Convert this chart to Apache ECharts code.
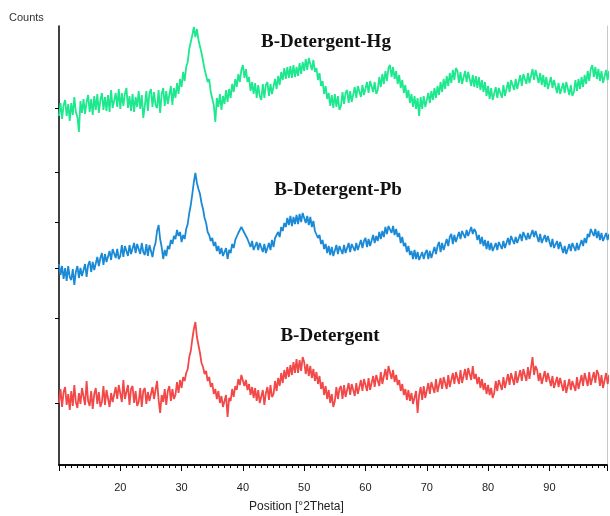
<!DOCTYPE html>
<html>
<head>
<meta charset="utf-8">
<script src="https://cdn.jsdelivr.net/npm/echarts@6/dist/echarts.min.js"></script>
<style>
  html, body { margin: 0; padding: 0; background: #fff; }
  #chart { width: 610px; height: 516px; }
</style>
</head>
<body>
<div id="chart"></div>
<script>
// XRD scan grid (°2Theta): 4 readings per degree
const scanStart = 10;
const scanStep = 0.25;

// Intensity (counts, stacked offsets) per sample, one row per degree
const hgCounts = [
  349, 362, 346, 360,  365, 349, 361, 344,  362, 350, 368, 353,  348, 333, 364, 352,  366, 351, 363, 370,
  353, 366, 350, 369,  355, 371, 352, 365,  372, 355, 368, 354,  370, 353, 375, 357,  356, 372, 358, 376,
  356, 372, 359, 371,  377, 357, 369, 354,  371, 353, 368, 358,  374, 356, 370, 347,  359, 374, 354, 372,
  376, 358, 373, 360,  357, 375, 352, 371,  377, 359, 374, 361,  362, 379, 360, 377,  367, 382, 371, 386,
  378, 393, 384, 398,  403, 416, 418, 430,  438, 428, 436, 425,  426, 412, 410, 396,  397, 383, 386, 373,
  374, 360, 343, 367,  358, 371, 355, 369,  361, 375, 363, 376,  367, 381, 373, 386,  378, 391, 383, 395,
  400, 387, 396, 383,  388, 374, 383, 371,  382, 367, 380, 369,  365, 381, 367, 380,  383, 369, 381, 371,
  373, 386, 376, 389,  380, 393, 385, 397,  386, 398, 387, 399,  387, 400, 388, 398,  389, 402, 391, 403,
  394, 406, 395, 407,  407, 395, 405, 393,  397, 385, 392, 379,  384, 371, 379, 366,  372, 359, 370, 357,
  371, 358, 369, 355,  359, 373, 361, 372,  375, 362, 374, 363,  365, 378, 367, 379,  381, 368, 380, 370,
  370, 383, 372, 384,  385, 373, 383, 371,  375, 388, 378, 391,  381, 394, 384, 397,  400, 388, 398, 386,
  394, 381, 390, 377,  385, 372, 380, 367,  375, 362, 371, 358,  369, 356, 367, 349,  368, 356, 369, 358,
  359, 372, 362, 374,  365, 377, 367, 379,  370, 383, 373, 386,  376, 389, 379, 392,  382, 395, 385, 397,
  394, 382, 393, 381,  381, 394, 383, 393,  392, 379, 390, 378,  389, 377, 388, 375,  385, 373, 383, 369,
  379, 366, 377, 365,  365, 378, 367, 377,  379, 367, 380, 369,  370, 383, 373, 385,  387, 375, 386, 376,
  377, 390, 379, 391,  393, 381, 392, 382,  383, 396, 385, 395,  394, 382, 392, 380,  390, 378, 388, 376,
  375, 388, 377, 385,  384, 372, 382, 371,  370, 382, 372, 383,  382, 370, 380, 369,  373, 385, 374, 386,
  376, 388, 378, 390,  381, 394, 384, 396,  400, 388, 398, 386,  396, 384, 394, 382,  383, 395, 385, 394
];

const pbCounts = [
  201, 190, 199, 186,  197, 184, 199, 188,  185, 196, 180, 193,  199, 187, 197, 189,  190, 201, 188, 200,
  204, 193, 203, 195,  197, 208, 199, 207,  212, 200, 211, 203,  203, 214, 205, 216,  218, 207, 216, 206,
  209, 220, 208, 219,  221, 209, 220, 211,  210, 222, 212, 221,  223, 211, 222, 213,  210, 221, 209, 220,
  219, 208, 217, 222,  234, 240, 226, 218,  206, 215, 209, 219,  216, 225, 221, 229,  226, 235, 229, 233,
  223, 230, 226, 236,  241, 252, 260, 271,  283, 292, 282, 276,  271, 262, 256, 247,  242, 233, 230, 224,
  227, 219, 223, 214,  219, 211, 217, 209,  208, 217, 206, 215,  212, 221, 217, 225,  224, 232, 230, 238,
  240, 232, 234, 226,  227, 218, 224, 215,  214, 223, 215, 222,  223, 213, 221, 212,  213, 222, 215, 225,
  218, 227, 225, 233,  228, 238, 234, 242,  238, 247, 240, 249,  239, 248, 241, 250,  241, 251, 243, 252,
  251, 242, 249, 240,  248, 238, 244, 234,  236, 227, 230, 221,  225, 216, 221, 212,  219, 210, 218, 209,
  210, 220, 211, 219,  221, 211, 220, 212,  212, 222, 213, 221,  223, 214, 222, 215,  215, 225, 217, 224,
  227, 218, 226, 219,  220, 230, 222, 229,  224, 233, 226, 234,  228, 238, 231, 239,  241, 232, 239, 230,
  236, 228, 232, 222,  228, 219, 222, 213,  219, 210, 214, 206,  215, 206, 213, 205,  204, 213, 206, 212,
  215, 206, 214, 207,  209, 218, 211, 219,  223, 213, 222, 215,  217, 226, 219, 228,  231, 221, 230, 223,
  223, 233, 226, 234,  236, 227, 235, 229,  228, 238, 231, 236,  233, 225, 230, 221,  228, 219, 225, 216,
  224, 215, 222, 214,  213, 222, 215, 223,  225, 216, 224, 217,  218, 227, 220, 229,  230, 221, 228, 222,
  222, 231, 224, 233,  234, 225, 232, 226,  225, 235, 228, 234,  233, 223, 231, 222,  221, 230, 223, 229,
  228, 218, 226, 217,  215, 224, 216, 223,  221, 212, 219, 211,  212, 221, 214, 222,  223, 214, 222, 215,
  215, 225, 219, 227,  222, 231, 228, 236,  238, 229, 236, 227,  234, 225, 232, 224,  223, 232, 225, 231
];

const detCounts = [
  62, 76, 58, 73,  78, 60, 71, 55,  74, 59, 80, 63,  57, 72, 61, 77,  75, 60, 84, 64,
  59, 74, 56, 71,  77, 61, 73, 58,  63, 79, 60, 75,  76, 58, 72, 63,  61, 78, 66, 80,
  78, 63, 85, 66,  64, 80, 60, 76,  79, 62, 74, 59,  63, 77, 58, 74,  77, 61, 73, 64,
  62, 78, 66, 75,  84, 65, 52, 70,  63, 76, 60, 74,  79, 64, 76, 66,  70, 83, 72, 85,
  77, 88, 84, 92,  96, 108, 114, 126,  136, 143, 128, 120,  112, 102, 98, 91,  94, 84, 88, 78,
  82, 71, 76, 66,  74, 62, 69, 58,  59, 70, 48, 67,  64, 76, 68, 79,  75, 86, 80, 90,
  89, 79, 85, 75,  81, 70, 78, 67,  77, 64, 75, 62,  63, 75, 60, 72,  78, 65, 80, 68,
  71, 84, 74, 87,  79, 92, 82, 95,  86, 98, 88, 100,  90, 103, 92, 106,  92, 105, 94, 108,
  103, 91, 101, 89,  99, 87, 96, 84,  93, 81, 89, 76,  83, 70, 79, 66,  75, 62, 71, 58,
  64, 78, 66, 76,  79, 66, 80, 68,  69, 82, 70, 81,  83, 69, 82, 71,  72, 85, 74, 86,
  86, 74, 87, 75,  76, 89, 78, 90,  91, 79, 93, 81,  83, 96, 85, 99,  98, 86, 95, 83,
  90, 80, 85, 74,  81, 70, 76, 65,  75, 64, 72, 61,  63, 74, 52, 70,  78, 65, 79, 67,
  69, 82, 71, 83,  84, 72, 86, 73,  74, 87, 76, 88,  88, 76, 90, 78,  79, 92, 81, 93,
  93, 81, 95, 82,  83, 96, 85, 97,  97, 85, 99, 86,  91, 81, 88, 77,  86, 75, 82, 71,
  80, 70, 77, 67,  72, 84, 74, 85,  87, 75, 88, 77,  78, 91, 80, 92,  92, 80, 94, 82,
  82, 95, 84, 96,  96, 84, 98, 86,  87, 108, 90, 99,  95, 84, 92, 81,  81, 94, 83, 92,
  91, 79, 89, 77,  76, 88, 78, 87,  86, 74, 85, 72,  73, 86, 75, 84,  86, 74, 88, 76,
  77, 90, 79, 92,  91, 79, 93, 80,  80, 93, 82, 95,  91, 79, 90, 77,  79, 92, 81, 90
];

const xTickLabels = [20, 30, 40, 50, 60, 70, 80, 90];
const yTickValues = [62, 147, 197, 243, 293, 357];
const sampleNames = ['B-Detergent-Hg', 'B-Detergent-Pb', 'B-Detergent'];

function toPairs(values) {
  return values.map((v, i) => [scanStart + i * scanStep, v]);
}

const chart = echarts.init(document.getElementById('chart'), null, { renderer: 'canvas' });

const sansFont = '"Liberation Sans", Arial, sans-serif';
const serifFont = '"Liberation Serif", "Times New Roman", serif';

function traceSeries(name, values, color) {
  return {
    name: name,
    type: 'line',
    data: toPairs(values),
    showSymbol: false,
    symbol: 'none',
    clip: true,
    animation: false,
    lineStyle: { color: color, width: 1.8 },
    itemStyle: { color: color }
  };
}

chart.setOption({
  animation: false,
  backgroundColor: '#fff',
  grid: { left: 59, right: 2, top: 26, bottom: 51, containLabel: false },
  xAxis: [
    {
      type: 'value',
      min: 10,
      max: 99.4,
      interval: 10,
      position: 'bottom',
      axisLine: { show: true, lineStyle: { color: '#000', width: 1.5 } },
      axisTick: { show: true, length: 6, lineStyle: { color: '#000', width: 1 } },
      minorTick: { show: true, splitNumber: 10, length: 3, lineStyle: { color: '#000', width: 1 } },
      axisLabel: {
        margin: 17,
        color: '#222',
        fontFamily: sansFont,
        fontSize: 11,
        formatter: v => (xTickLabels.indexOf(Math.round(v)) >= 0 && Math.abs(v - Math.round(v)) < 1e-6) ? String(Math.round(v)) : ''
      },
      splitLine: { show: false }
    },
    {
      type: 'value',
      min: 10,
      max: 99.4,
      position: 'top',
      axisLine: { show: true, lineStyle: { color: '#000', width: 1.5 } },
      axisTick: { show: false },
      axisLabel: { show: false },
      splitLine: { show: false }
    }
  ],
  yAxis: [
    {
      type: 'value',
      min: 0,
      max: 439,
      position: 'left',
      axisLine: { show: true, lineStyle: { color: '#000', width: 1.5 } },
      axisTick: { show: true, length: 4, customValues: yTickValues, lineStyle: { color: '#000', width: 1 } },
      axisLabel: { show: false },
      splitLine: { show: false }
    },
    {
      type: 'value',
      min: 0,
      max: 439,
      position: 'right',
      axisLine: { show: true, lineStyle: { color: '#c8c8c8', width: 1 } },
      axisTick: { show: false },
      axisLabel: { show: false },
      splitLine: { show: false }
    }
  ],
  series: [
    traceSeries(sampleNames[2], detCounts, '#f24848'),
    traceSeries(sampleNames[1], pbCounts, '#1a8ad6'),
    traceSeries(sampleNames[0], hgCounts, '#1de88e')
  ],
  graphic: [
    {
      type: 'text', left: 9, top: 12,
      style: { text: 'Counts', font: '11px ' + sansFont, fill: '#333' }
    },
    {
      type: 'text', left: 249, top: 501,
      style: { text: 'Position [°2Theta]', font: '12px ' + sansFont, fill: '#222' }
    },
    {
      type: 'text', x: 326, y: 42,
      style: { text: sampleNames[0], font: 'bold 19px ' + serifFont, fill: '#111', align: 'center', verticalAlign: 'middle' }
    },
    {
      type: 'text', x: 338, y: 190,
      style: { text: sampleNames[1], font: 'bold 19px ' + serifFont, fill: '#111', align: 'center', verticalAlign: 'middle' }
    },
    {
      type: 'text', x: 330, y: 336,
      style: { text: sampleNames[2], font: 'bold 19px ' + serifFont, fill: '#111', align: 'center', verticalAlign: 'middle' }
    }
  ]
});
</script>
</body>
</html>
